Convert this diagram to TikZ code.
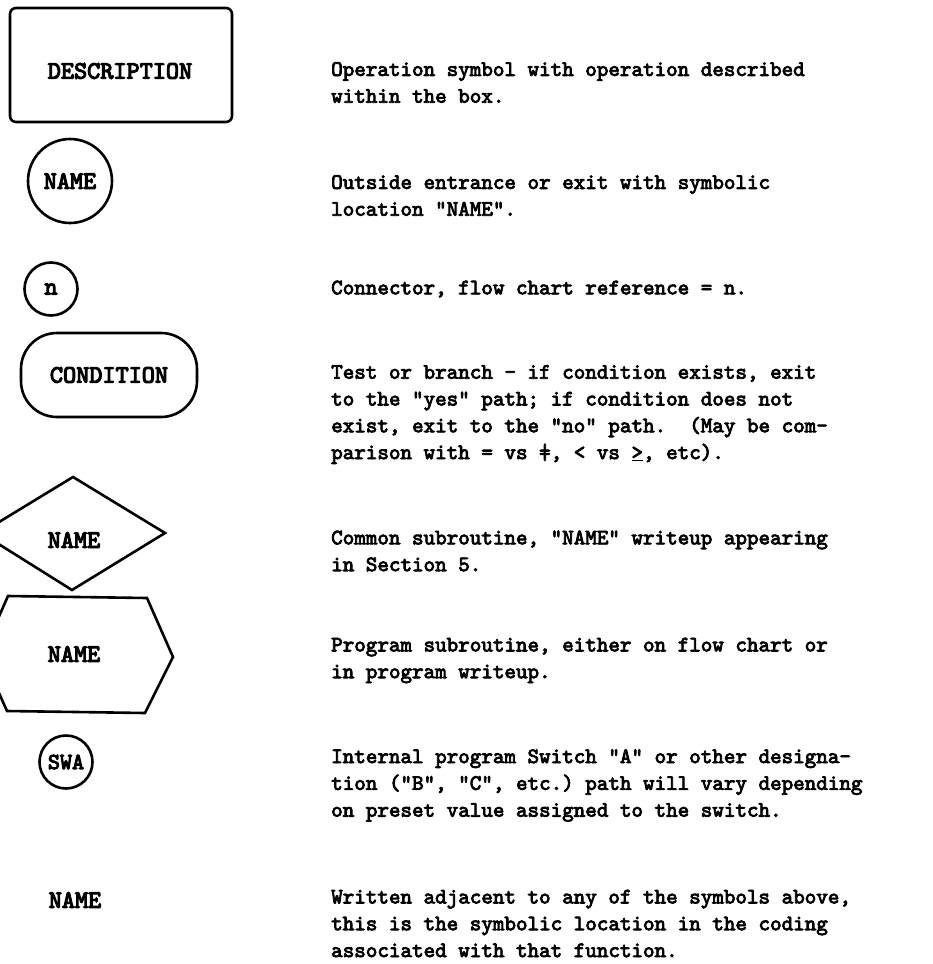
\documentclass[tikz,border=0pt]{standalone}
\usepackage{fontspec}
\newfontfamily\typewriter[FakeBold=3.6]{lmmono10-regular.otf}
\newfontfamily\typelabel[FakeBold=4.5]{lmmono10-regular.otf}
\usetikzlibrary{shapes.misc}
\begin{document}
\begin{tikzpicture}[x=1pt, y=-1pt,
  sym/.style={draw, line width=2.6pt, line join=round, inner sep=0pt},
  lbl/.style={font=\fontsize{25}{28}\selectfont\typelabel, inner sep=0pt},
  desc/.style={font=\fontsize{22}{26.8}\selectfont\typewriter\frenchspacing,
               align=left, anchor=west, inner sep=0pt}]
  \clip (0,0) rectangle (933,964);
  \fill[white] (0,0) rectangle (933,964);

  % operation box
  \node[sym, rectangle, rounded corners=6pt, minimum width=222pt, minimum height=114pt]
    (opbox) at (121,65) {};
  \node[lbl] (oplbl) at (120,71) {DESCRIPTION};

  % outside entrance / exit
  \node[sym, circle, minimum size=84pt, lbl] (exitc) at (70,181) {NAME};

  % connector
  \node[sym, circle, minimum size=53pt, lbl] (conn) at (51,289) {n};

  % test / branch
  \node[sym, rectangle, rounded corners=36pt, minimum width=176pt, minimum height=84pt, lbl]
    (cond) at (109,375) {CONDITION};

  % common subroutine
  \draw[line width=2.6pt, line join=miter] (73,477) -- (165,533) -- (72,590) -- (-19,533) -- cycle;
  \node[lbl] (csub) at (74,540) {NAME};

  % program subroutine
  \draw[line width=2.6pt, line join=miter] (8,596) -- (147,598) -- (173,657) -- (145,713)
    -- (7,711) -- (-18,655) -- cycle;
  \node[lbl] (psub) at (74,654) {NAME};

  % internal switch
  \node[sym, circle, minimum size=53pt, lbl, font=\fontsize{23}{26}\selectfont\typelabel]
    (swa) at (66,762) {SWA};

  % symbolic location
  \node[lbl] (loc) at (75,900) {NAME};

  % explanations
  \node[desc] (d1) at (331,82.5) {Operation symbol with operation described\\within the box.};
  \node[desc] (d2) at (331,195.5) {Outside entrance or exit with symbolic\\location "NAME".};
  \node[desc] (d3) at (331,289) {Connector, flow chart reference = n.};
  \node[desc] (d4) at (331,414.5) {Test or branch - if condition exists, exit\\to the "yes" path; if condition does not\\exist, exit to the "no" path.~~(May be com-\\parison with = vs \rlap{=}|, < vs \underline{>}, etc).};
  \node[desc] (d5) at (331,551) {Common subroutine, "NAME" writeup appearing\\in Section 5.};
  \node[desc] (d6) at (331,660.5) {Program subroutine, either on flow chart or\\in program writeup.};
  \node[desc] (d7) at (331,785.5) {Internal program Switch "A" or other designa-\\tion ("B", "C", etc.) path will vary depending\\on preset value assigned to the switch.};
  \node[desc] (d8) at (331,923.5) {Written adjacent to any of the symbols above,\\this is the symbolic location in the coding\\associated with that function.};
\end{tikzpicture}
\end{document}
